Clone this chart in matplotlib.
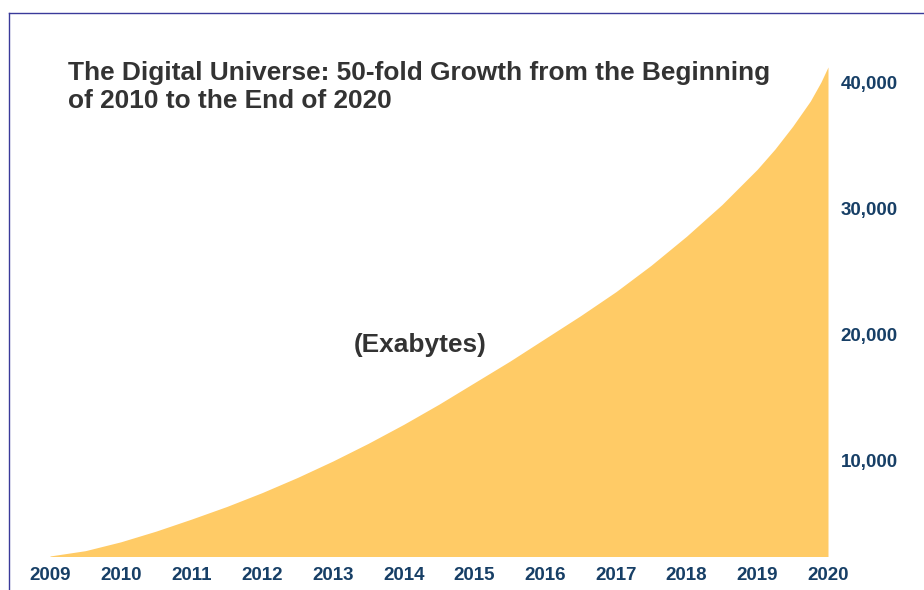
import matplotlib
matplotlib.use("Agg")
import matplotlib.pyplot as plt
from matplotlib.lines import Line2D

# Data (exabytes)
years = [2009.0, 2009.5, 2010.0, 2010.5, 2011.0, 2011.5, 2012.0, 2012.5,
         2013.0, 2013.5, 2014.0, 2014.5, 2015.0, 2015.5, 2016.0, 2016.5,
         2017.0, 2017.5, 2018.0, 2018.5, 2019.0, 2019.25, 2019.5, 2019.75,
         2019.9, 2020.0]
exabytes = [2480, 2900, 3600, 4450, 5400, 6400, 7500, 8700,
            10000, 11400, 12900, 14500, 16200, 17900, 19700, 21500,
            23400, 25500, 27800, 30300, 33100, 34700, 36500, 38500,
            40000, 41200]

year_ticks = list(range(2009, 2021))
year_labels = [str(y) for y in year_ticks]
y_ticks = [10000, 20000, 30000, 40000]
y_labels = ["10,000", "20,000", "30,000", "40,000"]

title_lines = "The Digital Universe: 50-fold Growth from the Beginning\nof 2010 to the End of 2020"
unit_label = "(Exabytes)"

W, H = 924, 590
fig = plt.figure(figsize=(W / 100, H / 100), dpi=100)
plt.rcParams['font.family'] = ['Liberation Sans', 'DejaVu Sans']

left_px, right_px = 50, 828
bottom_px, top_px = 556, 60
ax = fig.add_axes([left_px / W, 1 - bottom_px / H,
                   (right_px - left_px) / W, (bottom_px - top_px) / H])

fill_color = '#FFCB66'
tick_color = '#173F66'

ax.fill_between(years, exabytes, 0, color=fill_color, linewidth=0)

ax.set_xlim(2009, 2020)
ax.set_ylim(2478, 41750)

for s in ax.spines.values():
    s.set_visible(False)

ax.set_xticks(year_ticks)
ax.set_xticklabels(year_labels, fontsize=13.5, fontweight='bold', color=tick_color)
ax.yaxis.tick_right()
ax.set_yticks(y_ticks)
ax.set_yticklabels(y_labels, fontsize=13.5, fontweight='bold', color=tick_color)
ax.tick_params(axis='x', length=0, pad=8)
ax.tick_params(axis='y', length=0, pad=9)
for lab in ax.get_yticklabels():
    lab.set_horizontalalignment('left')

fig.text(68 / W, 1 - 61 / H, title_lines, fontsize=18.9, fontweight='bold',
         color='#333333', ha='left', va='top', linespacing=1.2)
fig.text(420 / W, 1 - 345 / H, unit_label, fontsize=18.9, fontweight='bold',
         color='#333333', ha='center', va='center')

frame_color = '#3A3A9A'
fig.add_artist(Line2D([9 / W, 1], [1 - 13 / H, 1 - 13 / H],
                      transform=fig.transFigure, color=frame_color, linewidth=1))
fig.add_artist(Line2D([9 / W, 9 / W], [1 - 13 / H, 0],
                      transform=fig.transFigure, color=frame_color, linewidth=1))

fig.savefig("out.png", dpi=100)
